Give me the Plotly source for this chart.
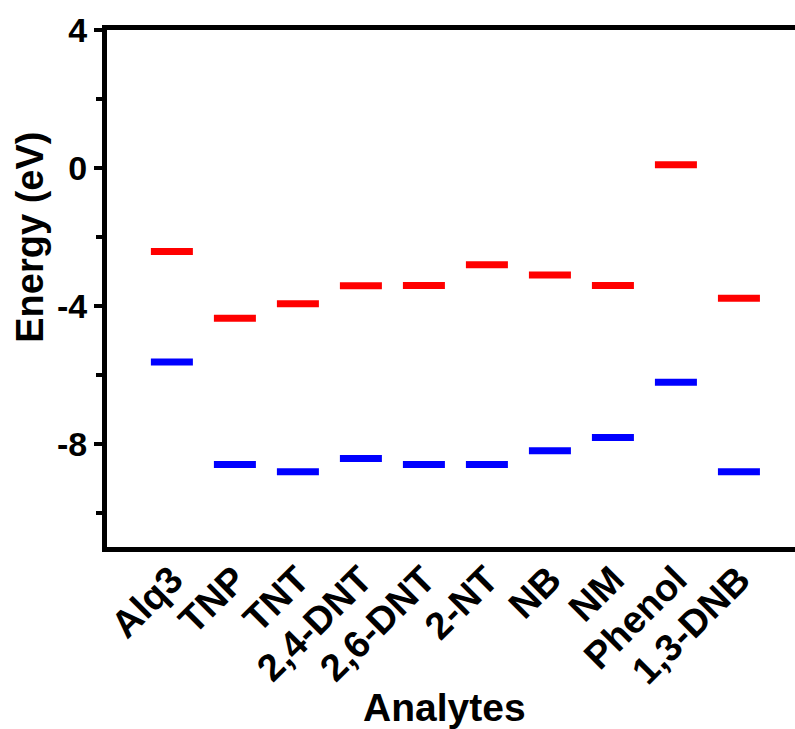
import plotly.graph_objects as go

categories = ["Alq3", "TNP", "TNT", "2,4-DNT", "2,6-DNT", "2-NT", "NB", "NM", "Phenol", "1,3-DNB"]
lumo = [-2.43, -4.36, -3.94, -3.42, -3.41, -2.81, -3.11, -3.41, 0.09, -3.78]
homo = [-5.63, -8.61, -8.82, -8.43, -8.61, -8.61, -8.21, -7.82, -6.22, -8.82]
y_ticks = [4, 0, -4, -8]

FONT = "Liberation Sans, Arial, sans-serif"

fig = go.Figure()
for vals, col in ((lumo, "#ff0000"), (homo, "#0000ff")):
    fig.add_trace(go.Scatter(
        x=categories, y=vals, mode="markers",
        marker=dict(symbol="line-ew", size=30, color=col,
                    line=dict(color=col, width=7)),
        showlegend=False, hoverinfo="skip"))

fig.update_layout(
    width=795, height=729,
    margin=dict(l=107, r=0, t=30, b=182),
    plot_bgcolor="white", paper_bgcolor="white",
    font=dict(family=FONT, color="black"),
)
fig.update_xaxes(
    type="category", range=[-1.03, 9.89], automargin=False,
    showline=True, linecolor="black", linewidth=5, mirror=True,
    ticks="", tickangle=-45, showgrid=False, zeroline=False,
    ticklabelstandoff=-10,
    tickfont=dict(family=FONT, size=38, weight="bold", color="black"),
)
fig.update_yaxes(
    range=[-11, 4], tickvals=y_ticks, ticktext=[str(v) for v in y_ticks],
    automargin=False,
    showline=True, linecolor="black", linewidth=5, mirror=False,
    ticks="outside", ticklen=8, tickwidth=4, tickcolor="black",
    minor=dict(tickvals=[2, -2, -6, -10], ticks="outside", ticklen=6, tickwidth=4, tickcolor="black"),
    showgrid=False, zeroline=False, ticklabelstandoff=0,
    tickfont=dict(family=FONT, size=34, weight="bold", color="black"),
)
fig.add_annotation(text="Energy (eV)", xref="paper", yref="paper",
                   x=-0.112, y=0.6, textangle=-90, showarrow=False,
                   xanchor="center", yanchor="middle",
                   font=dict(family=FONT, size=38, weight="bold", color="black"))
fig.add_annotation(text="Analytes", xref="paper", yref="paper",
                   x=0.49, y=-0.31, showarrow=False,
                   xanchor="center", yanchor="middle",
                   font=dict(family=FONT, size=39, weight="bold", color="black"))

fig.write_html("out.html", config={"displayModeBar": False},
               post_script="document.body.style.margin='0';")
